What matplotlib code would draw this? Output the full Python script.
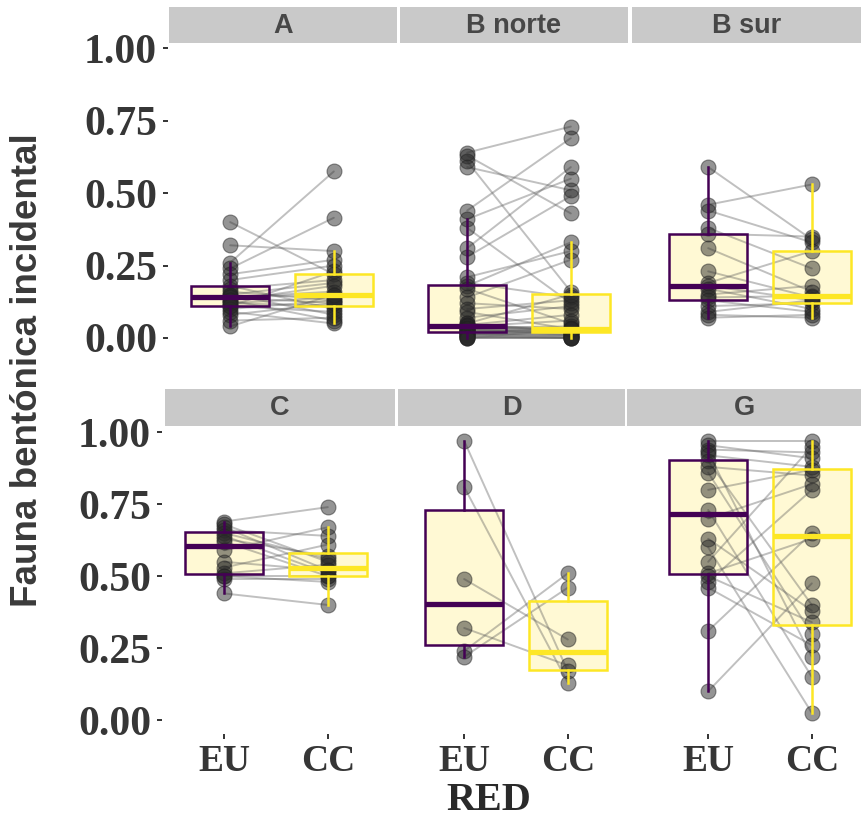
import numpy as np
import matplotlib
matplotlib.use("Agg")
import matplotlib.pyplot as plt

# ---------------- data ----------------
facets = ["A", "B norte", "B sur", "C", "D", "G"]
groups = ["EU", "CC"]
y_ticks = [0.0, 0.25, 0.5, 0.75, 1.0]
y_ticklabels = ["0.00", "0.25", "0.50", "0.75", "1.00"]

A_EU = [0.40, 0.32, 0.26, 0.24, 0.22, 0.20, 0.18, 0.17, 0.16, 0.15, 0.15, 0.14, 0.14,
        0.14, 0.13, 0.13, 0.12, 0.12, 0.11, 0.11, 0.10, 0.09, 0.08, 0.06, 0.04]
A_CC = [0.22, 0.30, 0.575, 0.415, 0.27, 0.25, 0.10, 0.20, 0.13, 0.19, 0.08, 0.16, 0.12,
        0.15, 0.06, 0.18, 0.14, 0.11, 0.09, 0.23, 0.13, 0.05, 0.12, 0.07, 0.15]

BN_EU = [0.64, 0.63, 0.61, 0.59, 0.44, 0.41, 0.38, 0.31, 0.28, 0.21, 0.19, 0.18, 0.17,
         0.14, 0.12, 0.10, 0.09, 0.07, 0.05, 0.05, 0.045, 0.045, 0.04, 0.04, 0.035, 0.035,
         0.03, 0.03, 0.03, 0.025, 0.025, 0.02, 0.02, 0.02, 0.015, 0.015, 0.01, 0.01, 0.01,
         0.005, 0.005, 0.0, 0.0, 0.0]
BN_CC = [0.73, 0.43, 0.16, 0.51, 0.69, 0.55, 0.12, 0.59, 0.49, 0.30, 0.14, 0.33, 0.05,
         0.27, 0.10, 0.13, 0.03, 0.11, 0.15, 0.02, 0.08, 0.03, 0.06, 0.025, 0.04, 0.03,
         0.02, 0.035, 0.01, 0.03, 0.025, 0.015, 0.02, 0.03, 0.01, 0.005, 0.01, 0.0, 0.025,
         0.0, 0.005, 0.0, 0.0, 0.03]

BS_EU = [0.59, 0.46, 0.44, 0.38, 0.36, 0.31, 0.23, 0.19, 0.18, 0.17, 0.15, 0.14, 0.13,
         0.11, 0.09, 0.08, 0.07]
BS_CC = [0.34, 0.53, 0.33, 0.24, 0.35, 0.16, 0.14, 0.30, 0.13, 0.10, 0.18, 0.145, 0.09,
         0.12, 0.13, 0.07, 0.08]

C_EU = [0.69, 0.68, 0.67, 0.66, 0.65, 0.64, 0.63, 0.62, 0.59, 0.55, 0.53, 0.51, 0.50,
        0.50, 0.49, 0.44]
C_CC = [0.74, 0.55, 0.52, 0.64, 0.56, 0.51, 0.57, 0.50, 0.67, 0.52, 0.61, 0.54, 0.48,
        0.50, 0.49, 0.40]

D_EU = [0.97, 0.81, 0.49, 0.32, 0.24, 0.22]
D_CC = [0.17, 0.13, 0.28, 0.19, 0.51, 0.46]

G_EU = [0.97, 0.955, 0.94, 0.93, 0.92, 0.90, 0.88, 0.86, 0.80, 0.73, 0.70, 0.63, 0.60,
        0.55, 0.51, 0.50, 0.48, 0.46, 0.31, 0.10]
G_CC = [0.97, 0.91, 0.93, 0.22, 0.88, 0.40, 0.85, 0.30, 0.87, 0.15, 0.82, 0.38, 0.025,
        0.95, 0.63, 0.34, 0.80, 0.26, 0.65, 0.475]

panel_data = [(A_EU, A_CC), (BN_EU, BN_CC), (BS_EU, BS_CC),
              (C_EU, C_CC), (D_EU, D_CC), (G_EU, G_CC)]

# ---------------- style ----------------
W, H = 862, 819
fig = plt.figure(figsize=(W / 100, H / 100), dpi=100)
fig.patch.set_facecolor("white")

def px_axes(left, top, width, height):
    return fig.add_axes([left / W, 1 - (top + height) / H, width / W, height / H])

edge_cols = ["#440154", "#FDE725"]
box_fill = "#FFF9D4"
serif = "Liberation Serif"
sans = "Liberation Sans"
txt_col = "#363636"

# panel geometry (pixels)
panel_w = 228
panel_left = [168, 405, 646, 162, 402, 646]
row_top = [43, 427]
row_h = [309, 307]
strip_x = [(169, 397), (400, 628), (632, 862), (165, 395), (398, 625), (627, 862)]
strip_y = [(7, 43), (389, 426)]

M = max(max(max(e), max(c)) for e, c in panel_data)
ylim = (-0.05 * M, 1.05 * M)
pos = [1, 2]

for i, (name, (eu, cc)) in enumerate(zip(facets, panel_data)):
    r = i // 3
    col = i % 3
    ax = px_axes(panel_left[i], row_top[r], panel_w, row_h[r])
    ax.set_xlim(0.4, 2.6)
    ax.set_ylim(*ylim)
    for s in ax.spines.values():
        s.set_visible(False)
    ax.set_facecolor("none")

    # box fill (under points)
    ax.boxplot([eu, cc], positions=pos, widths=0.75, patch_artist=True,
               showfliers=False, whis=1.5, zorder=1,
               boxprops=dict(facecolor=box_fill, edgecolor="none"),
               whiskerprops=dict(color="none"), capprops=dict(color="none"),
               medianprops=dict(color="none"))

    # paired lines
    xs = np.vstack([np.full(len(eu), pos[0]), np.full(len(cc), pos[1])])
    ys = np.vstack([eu, cc])
    ax.plot(xs, ys, color="#5a5a5a", alpha=0.38, lw=1.4, zorder=2,
            solid_capstyle="round")

    # points
    for p, vals in zip(pos, [eu, cc]):
        ax.scatter(np.full(len(vals), p), vals, s=115, color="#2a2a2a", alpha=0.5,
                   linewidths=0.8, edgecolors="#222222", zorder=3)

    # box outlines on top
    for p, vals, ec in zip(pos, [eu, cc], edge_cols):
        ax.boxplot([vals], positions=[p], widths=0.75, patch_artist=True,
                   showfliers=False, whis=1.5, zorder=5, capwidths=[0],
                   boxprops=dict(facecolor="none", edgecolor=ec, linewidth=1.8),
                   whiskerprops=dict(color=ec, linewidth=1.8),
                   capprops=dict(color=ec, linewidth=0),
                   medianprops=dict(color=ec, linewidth=3.8, solid_capstyle="butt"))

    ax.set_xlim(0.4, 2.6)
    ax.set_ylim(*ylim)

    # y ticks
    ax.set_yticks(y_ticks)
    if col == 0:
        ax.set_yticklabels(y_ticklabels, fontfamily=serif, fontweight="bold",
                           fontsize=30, color=txt_col)
        ax.tick_params(axis="y", length=3.8, width=1.4, color="#333333", pad=4)
    else:
        ax.tick_params(axis="y", length=0, labelleft=False)

    # x ticks
    ax.set_xticks(pos)
    if r == 1:
        ax.set_xticklabels(groups, fontfamily=serif, fontweight="bold",
                           fontsize=27, color=txt_col)
        ax.tick_params(axis="x", length=3.5, width=1.4, color="#333333", pad=4)
    else:
        ax.tick_params(axis="x", length=0, labelbottom=False)

    # strip
    sx0, sx1 = strip_x[i]
    sy0, sy1 = strip_y[r]
    sax = px_axes(sx0, sy0, sx1 - sx0, sy1 - sy0)
    sax.set_facecolor("#C9C9C9")
    sax.set_xticks([])
    sax.set_yticks([])
    for s in sax.spines.values():
        s.set_visible(False)
    sax.text(0.5, 0.48, name, ha="center", va="center", fontfamily=sans,
             fontweight="bold", fontsize=19.5, color="#474747",
             transform=sax.transAxes)

fig.text(28 / W, 1 - 370 / H, "Fauna bentónica incidental", rotation=90,
         ha="center", va="center", fontfamily=sans, fontweight="bold",
         fontsize=26.5, color="#3a3a3a")
fig.text(489 / W, 1 - 801 / H, "RED", ha="center", va="center", fontfamily=serif,
         fontweight="bold", fontsize=29, color="#2a2a2a")

fig.savefig("out.png", dpi=100, facecolor="white")
